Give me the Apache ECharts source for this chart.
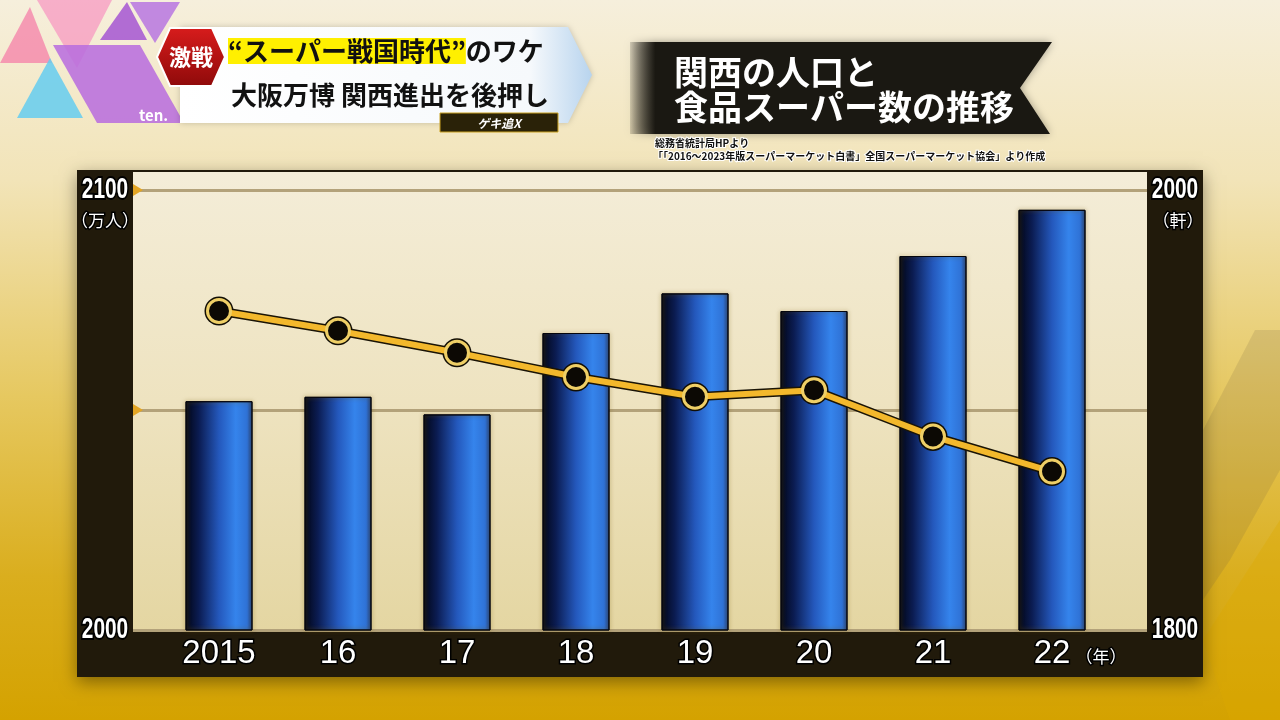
<!DOCTYPE html>
<html><head><meta charset="utf-8">
<script src="https://cdn.jsdelivr.net/npm/echarts@6/dist/echarts.min.js"></script>
<style>html,body{margin:0;padding:0;}#c{width:1280px;height:720px;}</style>
</head><body><div id="c"></div>
<script>
const categories = ['2015','16','17','18','19','20','21','22'];
const storeCounts = [1904,1906,1898,1935,1953,1945,1970,1991];
const population = [2072.5,2068,2063,2057.5,2053,2054.5,2044,2036];
const leftTicks = [2000, 2100];
const rightTicks = [1800, 2000];

const JP = '"Noto Sans CJK JP", "Noto Sans", sans-serif';
const NUM = '"Liberation Sans", Arial, sans-serif';
const chart = echarts.init(document.getElementById('c'));

const graphics = [
  // page background
  {type:'rect', z:0, shape:{x:0,y:0,width:1280,height:720},
   style:{fill:new echarts.graphic.LinearGradient(0,0,0,1,[
     {offset:0,color:'#F6EFDC'},{offset:0.25,color:'#F2E4B8'},{offset:0.55,color:'#E6C860'},{offset:0.8,color:'#DAAE1E'},{offset:1,color:'#D4A200'}])}},
  // faint darker diamond on right
  {type:'polygon', z:0, shape:{points:[[1203,430],[1255,330],[1280,330],[1280,470],[1230,560],[1203,600]]}, style:{fill:'rgba(110,95,60,0.16)'}},
  {type:'polygon', z:0, shape:{points:[[1203,640],[1280,520],[1280,720],[1230,720]]}, style:{fill:'rgba(220,170,0,0.35)'}},
  // decorative triangles top-left
  {type:'polygon', z:1, shape:{points:[[0,63],[30,7],[52,63]]}, style:{fill:'rgba(245,120,165,0.7)'}},
  {type:'polygon', z:1, shape:{points:[[37,0],[112,0],[77,68]]}, style:{fill:'rgba(248,140,190,0.65)'}},
  {type:'polygon', z:1, shape:{points:[[100,40],[127,2],[147,40]]}, style:{fill:'rgba(165,85,210,0.85)'}},
  {type:'polygon', z:1, shape:{points:[[130,2],[180,2],[155,43]]}, style:{fill:'rgba(180,110,225,0.8)'}},
  {type:'polygon', z:1, shape:{points:[[53,45],[140,45],[184,123],[97,123]]}, style:{fill:'rgba(185,110,222,0.88)'}},
  {type:'polygon', z:1, shape:{points:[[17,118],[50,58],[83,118]]}, style:{fill:'rgba(100,205,240,0.85)'}},
  {type:'text', z:2, style:{x:139, y:115, text:'ten.', fill:'#fff', font:'bold 15px '+JP, textAlign:'left', textVerticalAlign:'middle'}},
  // white header banner
  {type:'polygon', z:2, shape:{points:[[180,27],[568,27],[592,75],[568,123],[180,123]]},
   style:{fill:new echarts.graphic.LinearGradient(0,0,1,0,[{offset:0,color:'#ffffff'},{offset:0.85,color:'#f6f9fc'},{offset:1,color:'#b8d4ee'}]),
   shadowBlur:6, shadowColor:'rgba(0,0,0,0.2)'}},
  // red hexagon
  {type:'polygon', z:3, shape:{points:[[157,57],[170,28],[212,28],[225,57],[212,86],[170,86]]},
   style:{fill:new echarts.graphic.LinearGradient(0,0,0,1,[{offset:0,color:'#D81C1C'},{offset:1,color:'#8E0A0A'}]), stroke:'#ffffff', lineWidth:2}},
  {type:'text', z:4, style:{x:191, y:57, text:'激戦', fill:'#fff', font:'bold 22px '+JP, textAlign:'center', textVerticalAlign:'middle'}},
  {type:'text', z:4, style:{x:228, y:51, text:'{h|“スーパー戦国時代”}{n|のワケ}', textAlign:'left', textVerticalAlign:'middle',
    rich:{h:{backgroundColor:'#FFF000', fill:'#111', font:'bold 26px '+JP}, n:{fill:'#111', font:'bold 26px '+JP}}}},
  {type:'text', z:4, style:{x:231, y:95, text:'大阪万博 関西進出を後押し', fill:'#111', font:'bold 26px '+JP, textAlign:'left', textVerticalAlign:'middle'}},
  {type:'rect', z:4, shape:{x:440,y:113,width:118,height:19}, style:{fill:'#2a2208', stroke:'#C9A020', lineWidth:1}},
  {type:'text', z:5, style:{x:499, y:123, text:'ゲキ追X', fill:'#fff', font:'italic bold 12px '+JP, textAlign:'center', textVerticalAlign:'middle'}},
  // title banner
  {type:'polygon', z:2, shape:{points:[[630,42],[1052,42],[1020,88],[1050,134],[630,134]]},
   style:{fill:new echarts.graphic.LinearGradient(0,0,1,0,[{offset:0,color:'rgba(20,18,14,0.15)'},{offset:0.06,color:'#1a1812'},{offset:1,color:'#1a1812'}]),
   shadowBlur:8, shadowColor:'rgba(0,0,0,0.35)'}},
  {type:'text', z:3, style:{x:674, y:72, text:'関西の人口と', fill:'#fff', font:'bold 34px '+JP, textAlign:'left', textVerticalAlign:'middle'}},
  {type:'text', z:3, style:{x:674, y:107, text:'食品スーパー数の推移', fill:'#fff', font:'bold 34px '+JP, textAlign:'left', textVerticalAlign:'middle'}},
  {type:'text', z:3, style:{x:655, y:143, text:'総務省統計局HPより', fill:'#111', stroke:'#fff', lineWidth:2, font:'bold 10px '+JP, textAlign:'left', textVerticalAlign:'middle'}},
  {type:'text', z:3, style:{x:653, y:156, text:'「「2016～2023年版スーパーマーケット白書」全国スーパーマーケット協会」より作成', fill:'#111', stroke:'#fff', lineWidth:2, font:'bold 10px '+JP, textAlign:'left', textVerticalAlign:'middle'}},
  // chart dark frame
  {type:'rect', z:1, shape:{x:77,y:170,width:1126,height:507}, style:{fill:'#211a0b', shadowBlur:16, shadowColor:'rgba(0,0,0,0.4)', shadowOffsetY:5}},
  // plot background
  {type:'rect', z:1, shape:{x:133,y:172,width:1014,height:458},
   style:{fill:new echarts.graphic.LinearGradient(0,0,0,1,[{offset:0,color:'#F4EDD8'},{offset:0.5,color:'#EEE3C0'},{offset:1,color:'#E4D6A2'}])}},
  // orange axis triangles
  {type:'polygon', z:6, shape:{points:[[133,184],[143,190],[133,196]]}, style:{fill:'#E3A524'}},
  {type:'polygon', z:6, shape:{points:[[133,404],[143,410],[133,416]]}, style:{fill:'#E3A524'}},
  // unit labels
  {type:'text', z:6, style:{x:105, y:221, text:'（万人）', fill:'#fff', stroke:'#000', lineWidth:3, font:'17px '+JP, textAlign:'center', textVerticalAlign:'middle'}},
  {type:'text', z:6, style:{x:1178, y:221, text:'（軒）', fill:'#fff', stroke:'#000', lineWidth:3, font:'17px '+JP, textAlign:'center', textVerticalAlign:'middle'}},
  {type:'text', z:6, style:{x:1101, y:657, text:'（年）', fill:'#fff', stroke:'#000', lineWidth:3, font:'17px '+JP, textAlign:'center', textVerticalAlign:'middle'}}
];

const barGrad = new echarts.graphic.LinearGradient(0,0,1,0,[
  {offset:0,color:'#020616'},{offset:0.2,color:'#0b1c52'},{offset:0.5,color:'#2458bc'},{offset:0.75,color:'#3584ec'},{offset:0.92,color:'#2f72d6'},{offset:1,color:'#1c3f86'}]);

const option = {
  animation:false,
  graphic: graphics,
  grid:[
    {left:159.5, right:168.5, top:190, bottom:90},
    {left:133, right:133, top:190, bottom:90}
  ],
  xAxis:[
    {type:'category', data:categories, gridIndex:0, z:6,
     axisLine:{show:false}, axisTick:{show:false},
     axisLabel:{color:'#fff', fontSize:33, fontFamily:NUM, margin:7,
       textBorderColor:'#000', textBorderWidth:3}},
    {type:'value', gridIndex:1, show:false, min:0, max:1}
  ],
  yAxis:[
    {type:'value', gridIndex:0, min:leftTicks[0], max:leftTicks[1], interval:50, position:'left',
     axisLine:{show:false}, axisTick:{show:false}, splitLine:{show:false}, axisLabel:{show:false}},
    {type:'value', gridIndex:0, min:rightTicks[0], max:rightTicks[1], interval:100, position:'right',
     axisLine:{show:false}, axisTick:{show:false}, splitLine:{show:false}, axisLabel:{show:false}},
    {type:'value', gridIndex:1, min:0, max:2, interval:1, z:3,
     axisLine:{show:false}, axisTick:{show:false}, axisLabel:{show:false},
     splitLine:{show:true, lineStyle:{color:'#B3A27A', width:3}}}
  ],
  series:[
    {type:'bar', data:storeCounts, xAxisIndex:0, yAxisIndex:1, barWidth:67, z:10,
     itemStyle:{color:barGrad, borderColor:'#05060e', borderWidth:1, shadowBlur:4, shadowColor:'rgba(120,90,0,0.6)'}},
    {type:'line', data:population, xAxisIndex:0, yAxisIndex:0, z:11,
     lineStyle:{color:'#1a1406', width:9}, symbol:'circle', symbolSize:29,
     itemStyle:{color:'#120e04'}},
    {type:'line', data:population, xAxisIndex:0, yAxisIndex:0, z:12,
     lineStyle:{color:'#F3B82C', width:6}, symbol:'circle', symbolSize:23,
     itemStyle:{color:'#0c0904', borderColor:'#EFCF66', borderWidth:3}}
  ]
};
chart.setOption(option);

// narrow (condensed) y-axis tick labels, positioned through the axes' scales
const tickLabel = (cx, v, axisIdx) => ({
  type:'text', z:7, x:cx, y:chart.convertToPixel({yAxisIndex:axisIdx}, v), scaleX:0.72,
  style:{x:0, y:0, text:String(v), fill:'#fff', stroke:'#000', lineWidth:4,
    font:'bold 29px '+NUM, textAlign:'center', textVerticalAlign:'middle'}
});
const extra = [];
leftTicks.forEach(v => extra.push(tickLabel(105, v, 0)));
rightTicks.forEach(v => extra.push(tickLabel(1175, v, 1)));
chart.setOption({graphic: graphics.concat(extra)});
</script></body></html>
